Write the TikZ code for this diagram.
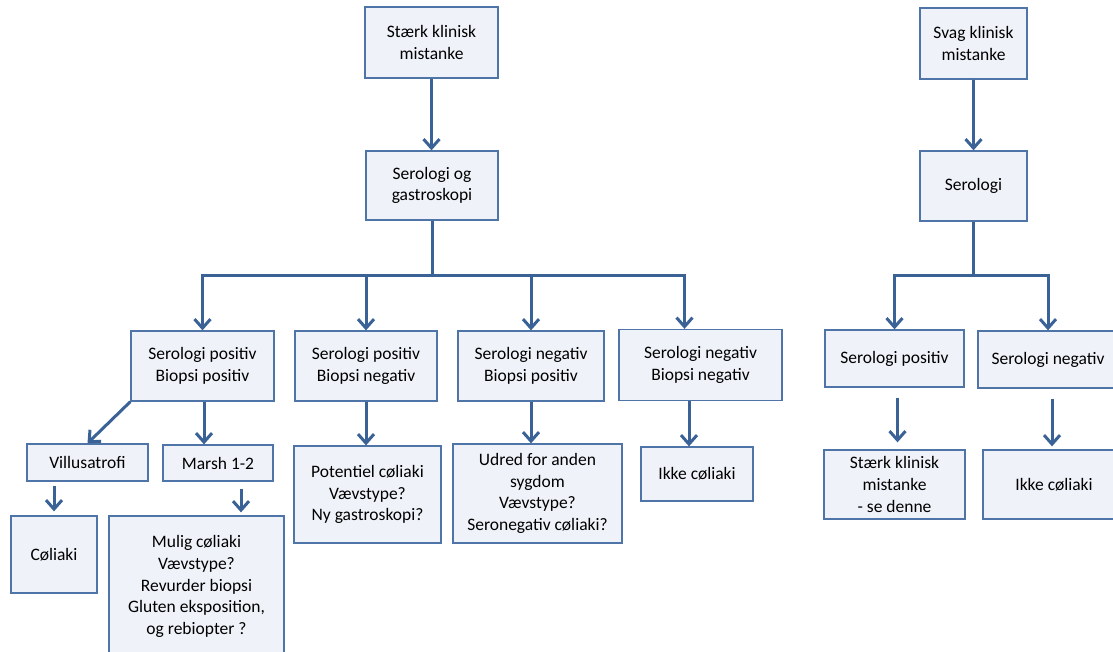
\documentclass[tikz,border=0pt]{standalone}
\usepackage{fontspec}
\setmainfont{Carlito}
\usepackage{tikz}
\usetikzlibrary{arrows.meta}
\definecolor{boxfill}{HTML}{EFF3F9}
\definecolor{boxline}{HTML}{4F74A8}
\definecolor{arrowblue}{HTML}{3A6297}

\begin{document}
\begin{tikzpicture}[x=1pt, y=-1pt]
		\tikzset{
			box/.style={rectangle, draw=boxline, line width=1.3pt, fill=boxfill, align=center, inner sep=0pt,
			font=\fontsize{17.5}{21.7}\selectfont},
			link/.style={draw=arrowblue, line width=3pt},
			arr/.style={link, -{Straight Barb[length=9pt, width=16pt]}}
		}
		\useasboundingbox (0,0) rectangle (1113,651);

		% strong suspicion
		\node[box, minimum width=133pt, minimum height=71pt](staerk) at (431.5,42.5){Stærk klinisk\\mistanke};
		\node[box, minimum width=132pt, minimum height=69pt](serog) at (432,185.5){Serologi og\\gastroskopi};
		\node[box, minimum width=143pt, minimum height=70pt](spbp) at (202.5,366){Serologi positiv\\Biopsi positiv};
		\node[box, minimum width=142pt, minimum height=70pt](spbn) at (366,366){Serologi positiv\\Biopsi negativ};
		\node[box, minimum width=146pt, minimum height=70pt](snbp) at (531,366){Serologi negativ\\Biopsi positiv};
		\node[box, minimum width=163pt, minimum height=71pt](snbn) at (700.5,365){Serologi negativ\\Biopsi negativ};
		\node[box, minimum width=121pt, minimum height=37pt](villus) at (87.5,462.5){Villusatrofi};
		\node[box, minimum width=110pt, minimum height=36pt](marsh) at (218,463){Marsh 1-2};
		\node[box, minimum width=86pt, minimum height=77pt](coeliaki) at (54,554.5){Cøliaki};
		\node[box, minimum width=175pt, minimum height=141pt](mulig) at (196.5,586.5){Mulig cøliaki\\Vævstype?\\Revurder biopsi\\Gluten eksposition,\\og rebiopter ?};
		\node[box, minimum width=147pt, minimum height=97pt](potentiel) at (367.5,494.5){Potentiel cøliaki\\Vævstype?\\Ny gastroskopi?};
		\node[box, minimum width=169pt, minimum height=99pt](udred) at (537.5,493.5){Udred for anden\\sygdom\\Vævstype?\\Seronegativ cøliaki?};
		\node[box, minimum width=112pt, minimum height=54pt](ikke) at (697,474){Ikke cøliaki};

		% weak suspicion
		\node[box, minimum width=107pt, minimum height=71pt](svag) at (973.5,43.5){Svag klinisk\\mistanke};
		\node[box, minimum width=107pt, minimum height=70pt](serologi) at (973.5,186){Serologi};
		\node[box, minimum width=139pt, minimum height=57pt](serpos) at (894.5,358.5){Serologi positiv};
		\node[box, minimum width=140pt, minimum height=57pt](serneg) at (1048,359.5){Serologi negativ};
		\node[box, minimum width=141pt, minimum height=69pt](seden) at (894.5,484.5){Stærk klinisk\\mistanke\\- se denne};
		\node[box, minimum width=142pt, minimum height=69pt](ikkeb) at (1054,484.5){Ikke cøliaki};

		\coordinate (fork) at (432,275);
		\coordinate (forkb) at (973.5,275);

		\draw[arr](staerk.south) -- (staerk.south |- serog.north);
		\draw[link](serog) -- (fork);
		\draw[arr](fork) -| (spbp);
		\draw[arr](fork) -| (spbn);
		\draw[arr](fork) -| (snbp);
		\draw[arr](fork) -| ([xshift=-16pt]snbn.north);
		\draw[arr](spbp.south west) -- (villus.north);
		\draw[arr]([xshift=1.5pt]spbp.south) -- ([xshift=1.5pt]spbp.south |- marsh.north);
		\draw[arr, shorten <=4pt, shorten >=4pt](villus.south -| coeliaki.north) -- (coeliaki.north);
		\draw[arr, shorten <=7pt, shorten >=3pt]([xshift=23pt]marsh.south) -- ([xshift=23pt]marsh.south |- mulig.north);
		\draw[arr](spbn.south) -- (spbn.south |- potentiel.north);
		\draw[arr](snbp.south) -- (snbp.south |- udred.north);
		\draw[arr]([xshift=-8pt]ikke.north |- snbn.south) -- ([xshift=-8pt]ikke.north);

		\draw[arr](svag) -- (serologi);
		\draw[link](serologi) -- (forkb);
		\draw[arr](forkb) -| (serpos);
		\draw[arr](forkb) -| (serneg);
		\draw[arr, shorten <=10pt, shorten >=7pt]([xshift=3pt]serpos.south) -- ([xshift=3pt]serpos.south |- seden.north);
		\draw[arr, shorten <=10pt, shorten >=3pt]([xshift=4pt]serneg.south) -- ([xshift=4pt]serneg.south |- ikkeb.north);
	\end{tikzpicture}
\end{document}
